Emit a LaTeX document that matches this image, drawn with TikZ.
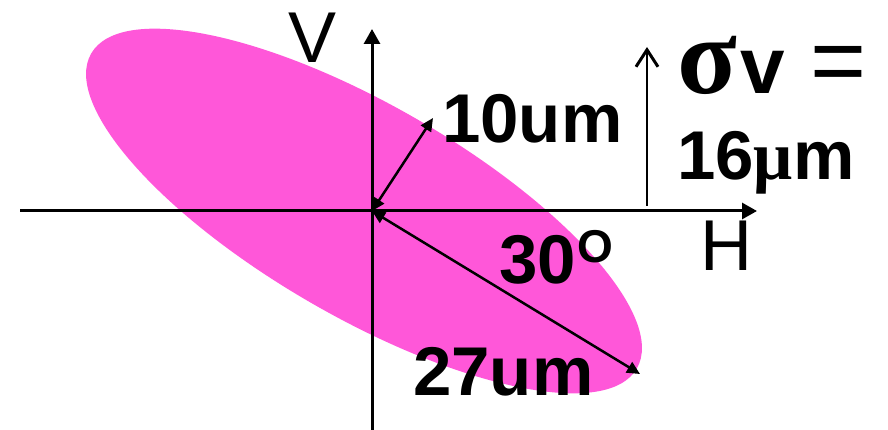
\documentclass[tikz,border=0pt]{standalone}
\usepackage{fontspec}
\setmainfont{Liberation Sans}
\newfontfamily\sigmafont{Liberation Serif}
\usetikzlibrary{arrows.meta}
\definecolor{ellpink}{RGB}{255,87,217}
\tikzset{
  axis/.style={line width=3pt,-{Triangle[length=15pt,width=16pt]}},
  vec/.style={line width=2.5pt,{Triangle[length=13pt,width=12pt]}-{Triangle[length=13pt,width=12pt]}},
  lbl/.style={anchor=base west,inner sep=0pt,font=\fontsize{69}{72}\selectfont\bfseries},
  axlbl/.style={anchor=base west,inner sep=0pt,font=\fontsize{72}{76}\selectfont},
}
\begin{document}
\begin{tikzpicture}[x=1pt,y=-1pt]
\useasboundingbox (0,0) rectangle (888,430);
\fill[ellpink,rotate around={-30:(364,211)}] (364,211) ellipse [x radius=315, y radius=106];
\coordinate (O) at (372,211);
\coordinate (hl) at (20,211);
\coordinate (hr) at (757,211);
\coordinate (vb) at (372,430);
\coordinate (vt) at (372,29);
\coordinate (mn) at (433,118);
\coordinate (mj) at (640,374);
\coordinate (sb) at (647,206);
\coordinate (st) at (647,47);
\draw[axis] (hl) -- (hr);
\draw[axis] (vb) -- (vt);
\draw[vec] (O) -- (mn);
\draw[vec] (O) -- (mj);
\draw[line width=2.2pt,-{Straight Barb[length=17pt,width=22pt,line width=3pt]}] (sb) -- (st);
\node[axlbl] (V) at (288,63) {V};
\node[axlbl] (H) at (700,270) {H};
\node[lbl] (ten) at (442,143) {10um};
\node[lbl] (thirty) at (499,283) {30};
\node[anchor=base west,inner sep=0pt,font=\fontsize{46}{50}\selectfont\bfseries] (deg) at (thirty.base east) [yshift=21pt,xshift=1pt] {O};
\node[lbl] (tws) at (413,395) {27um};
\node[anchor=base west,inner sep=0pt,font=\fontsize{110}{112}\selectfont\sigmafont\bfseries] (sig) at (677,94) {σ};
\node[anchor=base west,inner sep=0pt,font=\fontsize{80}{82}\selectfont\bfseries] (v) at (sig.base east) [xshift=3pt] {v};
\node[anchor=base west,inner sep=0pt,font=\fontsize{96}{100}\selectfont] (eq) at (810,94) {=};
\node[lbl] (sixteen) at (677,180) {16{\sigmafont μ}m};
\end{tikzpicture}
\end{document}
